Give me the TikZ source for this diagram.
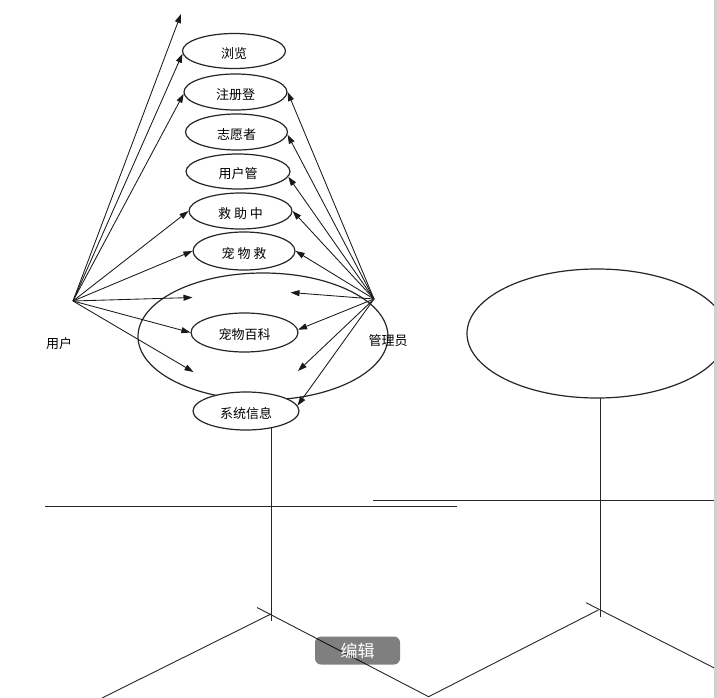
\documentclass[tikz,border=0pt]{standalone}
\usepackage{fontspec}
\setmainfont{Noto Sans CJK SC}
\usetikzlibrary{shapes.geometric,arrows.meta}
\newcommand{\dnshift}[1]{\raisebox{-2.2pt}[\height][\depth]{#1}}
\begin{document}
\begin{tikzpicture}[x=1pt,y=-1pt,
  uc/.style={draw=black!85,line width=1.2pt,ellipse,inner sep=0pt,fill=white,font=\fontsize{13}{15}\selectfont},
  biguc/.style={draw=black!85,line width=1.2pt,ellipse,inner sep=0pt},
  arr/.style={draw=black!90,line width=0.85pt,-{Triangle[length=9pt,width=6pt]}},
  plain/.style={draw=black!85,line width=0.9pt},
  lbl/.style={font=\fontsize{13}{15}\selectfont},
  btnbox/.style={fill=black,fill opacity=0.5,text opacity=1,text=white,rounded corners=6pt,minimum width=85pt,minimum height=28pt,inner sep=0pt,font=\fontsize{17}{19}\selectfont}]
\useasboundingbox (0,0) rectangle (717,698);
\begin{scope}
\clip (0,0) rectangle (714,698);
% stick-figure lines
\draw[plain] (271,420) -- (271,621);
\draw[plain] (600,390) -- (600,617);
\draw[plain] (45,506) -- (457,506);
\draw[plain] (373,500.5) -- (714,500.5);
\draw[plain] (271,614) -- (102,698);
\draw[plain] (257,607.5) -- (428.6,696.7) -- (598.3,610);
\draw[plain] (586,602.7) -- (730,676);
% big ellipses
\node[biguc,minimum width=250pt,minimum height=127pt] (big) at (263,336.5) {};
\node[uc,minimum width=260pt,minimum height=129pt] (big2) at (597,333.5) {};
% use cases
\node[uc,minimum width=103pt,minimum height=35pt] (b1) at (234,51) {\dnshift{浏览}};
\node[uc,minimum width=103pt,minimum height=36pt] (b2) at (235.5,92) {\dnshift{注册登}};
\node[uc,minimum width=102pt,minimum height=36pt] (b3) at (236.5,132) {\dnshift{志愿者}};
\node[uc,minimum width=104pt,minimum height=35pt] (b4) at (238,171.5) {\dnshift{用户管}};
\node[uc,minimum width=103pt,minimum height=36pt] (b5) at (240.5,211) {\dnshift{救 助 中}};
\node[uc,minimum width=102pt,minimum height=38pt] (b6) at (244,251) {\dnshift{宠 物 救}};
\node[uc,minimum width=107pt,minimum height=39pt] (b7) at (244.5,332.5) {\dnshift{宠物百科}};
\node[uc,minimum width=106pt,minimum height=38pt] (b8) at (246,411) {\dnshift{系统信息}};
% actors
\coordinate (U) at (73,301);
\coordinate (A) at (374,299);
\node[lbl] (user) at (59,341.5) {\dnshift{用户}};
\node[lbl] (admin) at (388,338) {\dnshift{管理员}};
% free ends
\coordinate (p0) at (181,14);
\coordinate (p1) at (192.5,297.5);
\coordinate (p2) at (193.5,372);
\coordinate (p3) at (290.5,292.5);
\coordinate (p4) at (298,371);
% user arrows
\draw[arr] (U) -- (p0);
\draw[arr] (U) -- (b1.183);
\draw[arr] (U) -- (b2.182);
\draw[arr] (U) -- (b5.west);
\draw[arr] (U) -- (b6.west);
\draw[arr] (U) -- (p1);
\draw[arr] (U) -- (b7.west);
\draw[arr] (U) -- (p2);
% admin arrows
\draw[arr] (A) -- (b2.east);
\draw[arr] (A) -- (b3.-3);
\draw[arr] (A) -- (b4.-6);
\draw[arr] (A) -- (b5.east);
\draw[arr] (A) -- (b6.east);
\draw[arr] (A) -- (p3);
\draw[arr] (A) -- (b7.3);
\draw[arr] (A) -- (p4);
\draw[arr] (A) -- (b8.6);
% overlay button
\node[btnbox] (btn) at (357.5,650.5) {编辑};
\end{scope}
\fill[black!18] (714,0) rectangle (717,698);
\end{tikzpicture}
\end{document}
